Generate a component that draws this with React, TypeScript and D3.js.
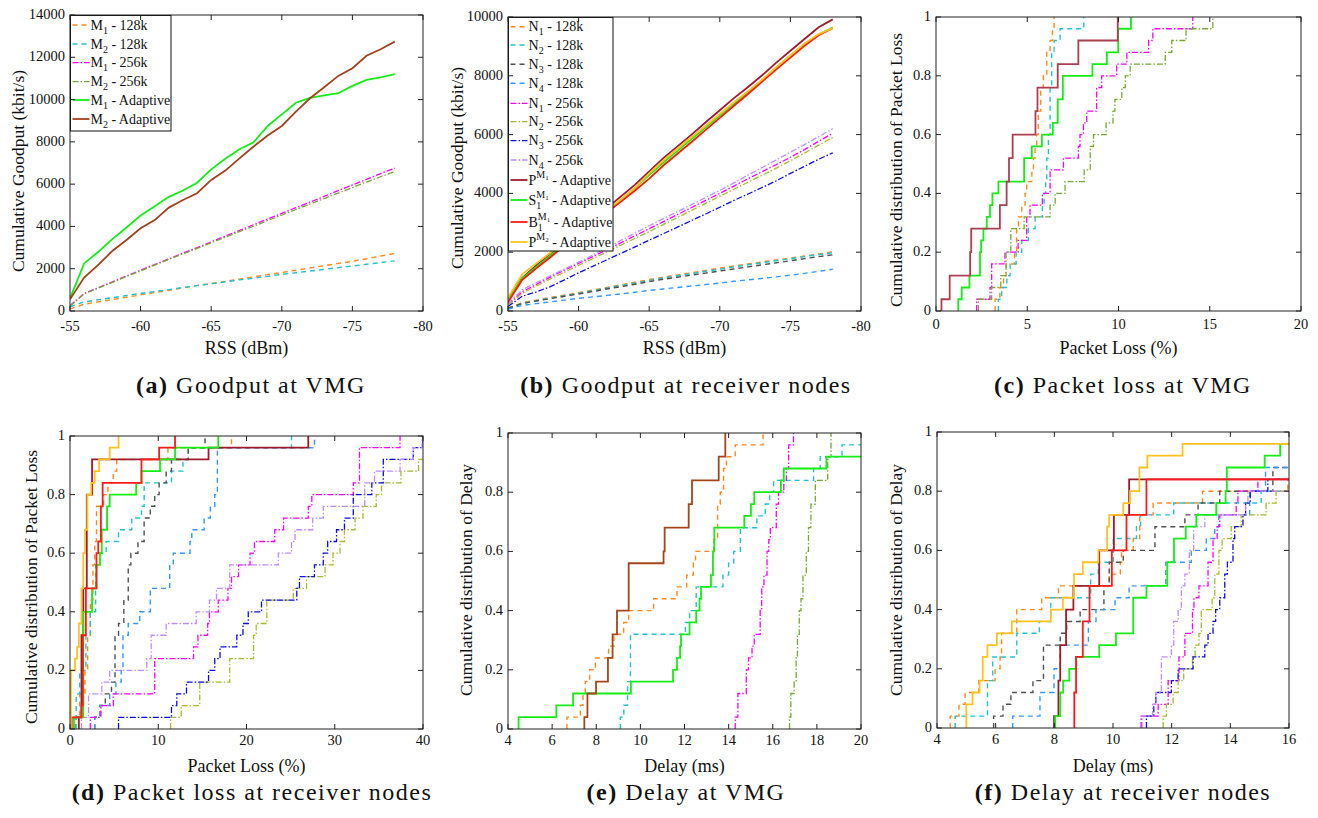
import React from 'react';
import * as d3 from 'd3';

type Pt = [number, number];
const FONT = '"Liberation Serif", "Times New Roman", serif';

// ---------- (a) / (b) goodput vs RSS ----------
const rss = [-55, -56, -57, -58, -59, -60, -61, -62, -63, -64, -65, -66, -67, -68, -69, -70, -71, -72, -73, -74, -75, -76, -77, -78];

const aM1_128 = [100, 320, 430, 540, 650, 760, 870, 980, 1090, 1200, 1300, 1400, 1510, 1610, 1720, 1820, 1930, 2040, 2140, 2250, 2350, 2470, 2600, 2720];
const aM2_128 = [200, 430, 530, 630, 730, 830, 920, 1010, 1110, 1200, 1290, 1380, 1470, 1550, 1640, 1730, 1810, 1890, 1970, 2050, 2130, 2210, 2290, 2370];
const aM1_256 = [250, 830, 1100, 1380, 1660, 1930, 2200, 2470, 2740, 3000, 3270, 3540, 3810, 4080, 4350, 4620, 4890, 5150, 5420, 5690, 5960, 6230, 6500, 6760];
const aM2_256 = [230, 810, 1080, 1350, 1630, 1900, 2170, 2440, 2700, 2960, 3230, 3490, 3750, 4010, 4280, 4540, 4800, 5060, 5320, 5580, 5840, 6100, 6350, 6600];
const aM1_Ad = [600, 2250, 2800, 3400, 3950, 4520, 4950, 5400, 5700, 6070, 6700, 7200, 7650, 7980, 8750, 9300, 9850, 10080, 10200, 10300, 10650, 10930, 11050, 11200];
const aM2_Ad = [550, 1580, 2180, 2840, 3360, 3910, 4300, 4890, 5250, 5570, 6200, 6640, 7220, 7780, 8300, 8750, 9430, 10060, 10580, 11120, 11480, 12070, 12380, 12740];

const bN1_128 = [100, 280, 370, 460, 540, 620, 710, 800, 890, 980, 1070, 1150, 1230, 1300, 1380, 1460, 1530, 1600, 1670, 1740, 1800, 1870, 1940, 2010];
const bN2_128 = [90, 260, 350, 440, 520, 600, 690, 780, 870, 950, 1040, 1120, 1200, 1270, 1350, 1420, 1500, 1570, 1640, 1710, 1780, 1850, 1920, 1980];
const bN3_128 = [90, 250, 340, 420, 500, 580, 660, 750, 830, 910, 1000, 1080, 1150, 1220, 1290, 1360, 1430, 1500, 1570, 1640, 1710, 1780, 1850, 1910];
const bN4_128 = [60, 190, 250, 310, 370, 430, 480, 530, 580, 640, 700, 750, 800, 850, 900, 950, 1010, 1060, 1110, 1160, 1220, 1280, 1350, 1420];
const bN1_256 = [220, 650, 900, 1150, 1390, 1620, 1850, 2080, 2320, 2560, 2800, 3040, 3280, 3520, 3760, 4000, 4250, 4500, 4740, 4980, 5230, 5490, 5770, 6050];
const bN2_256 = [200, 600, 850, 1090, 1320, 1550, 1780, 2010, 2240, 2470, 2700, 2940, 3180, 3420, 3660, 3900, 4140, 4380, 4620, 4860, 5110, 5370, 5640, 5900];
const bN3_256 = [150, 500, 650, 830, 1060, 1300, 1520, 1740, 1960, 2180, 2410, 2630, 2850, 3080, 3300, 3530, 3760, 3980, 4200, 4430, 4680, 4920, 5160, 5380];
const bN4_256 = [250, 720, 960, 1200, 1430, 1660, 1900, 2150, 2400, 2650, 2900, 3140, 3380, 3620, 3860, 4100, 4360, 4620, 4880, 5140, 5400, 5660, 5930, 6200];
const bPM1 = [380, 1120, 1550, 1950, 2350, 2750, 3100, 3500, 3900, 4300, 4750, 5200, 5600, 6000, 6420, 6830, 7240, 7620, 8020, 8450, 8850, 9250, 9650, 9920];
const bS1M1 = [350, 1100, 1500, 1880, 2270, 2650, 3000, 3400, 3780, 4180, 4620, 5050, 5450, 5850, 6250, 6650, 7050, 7450, 7850, 8280, 8680, 9080, 9400, 9640];
const bB1M1 = [300, 1050, 1450, 1830, 2220, 2600, 2960, 3350, 3720, 4100, 4500, 4950, 5350, 5750, 6160, 6570, 6980, 7380, 7800, 8220, 8620, 9020, 9380, 9620];
const bPM2 = [450, 1250, 1620, 1980, 2360, 2720, 3060, 3430, 3800, 4200, 4680, 5120, 5520, 5920, 6300, 6700, 7100, 7480, 7870, 8290, 8700, 9100, 9420, 9620];

// ---------- (c) packet loss at VMG: CDF steps [x, F] ----------
const cM1_128: Pt[] = [[3.24, 0.04], [3.5, 0.08], [3.7, 0.12], [3.84, 0.16], [4.3, 0.2], [4.42, 0.28], [4.52, 0.32], [4.7, 0.36], [4.88, 0.4], [4.97, 0.44], [5.25, 0.48], [5.34, 0.52], [5.43, 0.56], [5.52, 0.6], [5.6, 0.68], [5.74, 0.76], [5.88, 0.8], [6.07, 0.88], [6.25, 0.92], [6.38, 0.96], [6.47, 1]];
const cM2_128: Pt[] = [[3.42, 0.04], [3.6, 0.08], [3.88, 0.12], [4.06, 0.16], [4.39, 0.2], [4.7, 0.24], [5.06, 0.28], [5.43, 0.32], [5.83, 0.36], [5.92, 0.4], [6.01, 0.44], [6.07, 0.52], [6.16, 0.6], [6.25, 0.76], [6.34, 0.88], [6.47, 0.92], [6.8, 0.96], [8.1, 1]];
const cM1_256: Pt[] = [[2.23, 0.04], [2.96, 0.08], [3.05, 0.16], [3.78, 0.2], [4.5, 0.24], [4.97, 0.32], [5.15, 0.36], [5.83, 0.4], [6.25, 0.48], [6.98, 0.52], [7.8, 0.56], [7.89, 0.6], [8.08, 0.64], [8.26, 0.68], [8.8, 0.76], [9.08, 0.8], [9.9, 0.84], [10.46, 0.88], [11.65, 0.92], [11.88, 0.96], [14.07, 1]];
const cM2_256: Pt[] = [[2.32, 0.04], [3.05, 0.08], [3.55, 0.12], [3.84, 0.2], [4.1, 0.28], [4.83, 0.32], [6.25, 0.36], [6.53, 0.4], [7.07, 0.44], [8.12, 0.48], [8.45, 0.56], [8.63, 0.6], [9.32, 0.64], [9.7, 0.68], [9.8, 0.72], [10.18, 0.76], [10.37, 0.8], [10.64, 0.84], [12.56, 0.88], [12.92, 0.92], [13.7, 0.96], [15.17, 1]];
const cM1_Ad: Pt[] = [[1.22, 0.04], [1.41, 0.08], [1.83, 0.12], [2.41, 0.2], [2.47, 0.24], [2.6, 0.28], [2.78, 0.32], [2.96, 0.36], [3.09, 0.4], [3.42, 0.44], [4.83, 0.52], [5.25, 0.56], [5.8, 0.6], [6.4, 0.64], [6.67, 0.72], [6.95, 0.8], [8.57, 0.84], [9.36, 0.88], [9.98, 0.96], [10.68, 1]];
const cM2_Ad: Pt[] = [[0.3, 0.04], [0.75, 0.12], [1.87, 0.2], [1.93, 0.28], [3.5, 0.36], [3.87, 0.44], [4.0, 0.52], [4.2, 0.6], [5.45, 0.68], [5.56, 0.76], [6.67, 0.84], [7.8, 0.92], [9.96, 1]];

// ---------- (d) packet loss at receiver nodes ----------
const dN1_128: Pt[] = [[0.6, 0.04], [1.1, 0.12], [1.7, 0.2], [2.0, 0.32], [2.3, 0.44], [2.6, 0.56], [2.8, 0.64], [3.0, 0.76], [3.8, 0.8], [4.3, 0.84], [4.9, 0.88], [5.3, 0.92], [11.1, 0.96], [18.3, 1]];
const dN2_128: Pt[] = [[0.7, 0.12], [1.1, 0.2], [1.8, 0.32], [2.3, 0.4], [2.9, 0.56], [3.4, 0.6], [4.1, 0.64], [5.5, 0.68], [7.0, 0.72], [8.1, 0.76], [8.4, 0.84], [11.5, 0.88], [12.8, 0.92], [13.4, 0.96], [25.1, 1]];
const dN3_128: Pt[] = [[2.8, 0.04], [3.4, 0.08], [4.0, 0.12], [4.7, 0.16], [5.1, 0.32], [5.5, 0.36], [6.1, 0.44], [6.6, 0.56], [6.9, 0.6], [7.7, 0.64], [8.4, 0.72], [9.1, 0.76], [9.6, 0.8], [10.1, 0.84], [10.9, 0.88], [11.5, 0.92], [13.4, 0.96], [15.3, 1]];
const dN4_128: Pt[] = [[2.8, 0.04], [3.4, 0.08], [4.5, 0.12], [5.2, 0.16], [5.8, 0.2], [6.0, 0.32], [6.6, 0.36], [7.9, 0.4], [9.1, 0.48], [11.3, 0.56], [11.7, 0.6], [13.6, 0.64], [13.8, 0.68], [15.2, 0.72], [15.9, 0.76], [16.4, 0.8], [16.7, 0.96], [27.7, 1]];
const dN1_256: Pt[] = [[2.3, 0.04], [3.5, 0.08], [4.9, 0.12], [9.6, 0.24], [14.0, 0.28], [14.5, 0.32], [15.6, 0.36], [15.8, 0.4], [16.8, 0.44], [17.9, 0.48], [18.3, 0.52], [19.1, 0.56], [20.4, 0.6], [20.9, 0.64], [23.2, 0.68], [24.2, 0.72], [27.0, 0.76], [27.4, 0.8], [32.1, 0.84], [32.8, 0.96], [37.4, 1]];
const dN2_256: Pt[] = [[11.4, 0.04], [12.6, 0.08], [14.7, 0.16], [18.1, 0.24], [20.8, 0.32], [21.1, 0.36], [22.3, 0.44], [25.3, 0.48], [26.8, 0.52], [28.9, 0.56], [29.8, 0.6], [30.6, 0.64], [31.1, 0.68], [32.3, 0.72], [33.2, 0.76], [34.7, 0.8], [35.3, 0.84], [37.5, 0.88], [39.5, 0.92], [40, 0.92]];
const dN3_256: Pt[] = [[5.5, 0.04], [11.5, 0.08], [12.1, 0.12], [13.2, 0.16], [15.7, 0.2], [16.4, 0.24], [17.0, 0.28], [18.9, 0.32], [19.6, 0.36], [20.2, 0.4], [21.7, 0.44], [25.7, 0.48], [26.0, 0.52], [27.7, 0.56], [28.7, 0.6], [29.2, 0.64], [30.2, 0.68], [31.1, 0.72], [32.1, 0.8], [34.2, 0.84], [35.5, 0.92], [38.9, 0.96], [40, 1]];
const dN4_256: Pt[] = [[1.3, 0.04], [2.1, 0.12], [3.6, 0.16], [4.5, 0.2], [8.7, 0.24], [9.2, 0.32], [10.9, 0.36], [14.3, 0.4], [15.8, 0.44], [16.6, 0.48], [18.1, 0.56], [23.6, 0.6], [25.1, 0.64], [25.5, 0.68], [27.5, 0.72], [28.7, 0.76], [33.4, 0.84], [34.5, 0.88], [37.4, 0.92], [38.9, 0.96], [39.9, 1]];
const dPM1: Pt[] = [[1.0, 0.04], [1.3, 0.32], [1.5, 0.48], [1.9, 0.8], [2.5, 0.92], [15.7, 0.96], [27.0, 1]];
const dS1M1: Pt[] = [[0.45, 0.04], [1.5, 0.4], [2.5, 0.48], [3.0, 0.56], [3.4, 0.6], [3.6, 0.68], [4.2, 0.76], [4.5, 0.8], [7.5, 0.84], [8.1, 0.88], [10.2, 0.92], [11.9, 0.96], [16.8, 1]];
const dB1M1: Pt[] = [[0.2, 0.04], [1.3, 0.08], [1.45, 0.32], [1.8, 0.48], [3.0, 0.6], [3.2, 0.64], [3.5, 0.76], [3.7, 0.84], [8.1, 0.92], [10.1, 0.96], [11.9, 1]];
const dPM2: Pt[] = [[0.1, 0.2], [0.57, 0.24], [0.8, 0.28], [1.0, 0.36], [1.3, 0.48], [1.5, 0.6], [1.7, 0.68], [1.96, 0.8], [2.4, 0.84], [2.8, 0.88], [3.3, 0.92], [4.5, 0.96], [5.5, 1]];

// ---------- (e) delay at VMG ----------
const eM1_128: Pt[] = [[6.67, 0.04], [7.28, 0.08], [7.4, 0.12], [7.5, 0.16], [7.7, 0.2], [7.96, 0.24], [8.56, 0.28], [8.8, 0.32], [9.24, 0.36], [9.47, 0.4], [10.6, 0.44], [11.66, 0.48], [12.1, 0.52], [12.4, 0.56], [12.5, 0.6], [13.32, 0.64], [13.5, 0.76], [13.62, 0.8], [13.77, 0.88], [13.9, 0.92], [14.3, 0.96], [15.56, 1]];
const eM2_128: Pt[] = [[9.09, 0.04], [9.25, 0.08], [9.42, 0.16], [9.55, 0.32], [12.04, 0.36], [12.23, 0.4], [12.53, 0.48], [13.74, 0.52], [14.0, 0.56], [14.23, 0.6], [14.53, 0.68], [15.28, 0.72], [15.66, 0.76], [15.86, 0.8], [16.04, 0.84], [17.85, 0.88], [18.15, 0.92], [19.14, 0.96], [20, 0.96]];
const eM1_256: Pt[] = [[14.3, 0.04], [14.42, 0.12], [14.8, 0.2], [14.9, 0.24], [15.06, 0.28], [15.16, 0.32], [15.43, 0.4], [15.5, 0.48], [15.6, 0.52], [15.74, 0.6], [15.82, 0.64], [15.89, 0.68], [16.16, 0.76], [16.26, 0.8], [16.5, 0.84], [16.62, 0.88], [16.72, 0.96], [16.94, 1]];
const eM2_256: Pt[] = [[16.76, 0.04], [16.82, 0.12], [16.97, 0.16], [17.06, 0.24], [17.12, 0.32], [17.2, 0.4], [17.28, 0.44], [17.37, 0.52], [17.52, 0.6], [17.62, 0.68], [17.73, 0.76], [17.93, 0.84], [18.49, 0.92], [18.64, 1]];
const eM1_Ad: Pt[] = [[4.48, 0.04], [6.19, 0.08], [6.95, 0.12], [9.57, 0.16], [11.48, 0.2], [11.66, 0.24], [11.8, 0.28], [11.84, 0.32], [12.23, 0.36], [12.53, 0.4], [12.68, 0.44], [12.75, 0.48], [13.2, 0.52], [13.29, 0.6], [13.35, 0.68], [14.71, 0.72], [15.01, 0.76], [15.16, 0.8], [16.37, 0.84], [16.5, 0.88], [18.43, 0.92], [20, 0.92]];
const eM2_Ad: Pt[] = [[7.46, 0.04], [7.6, 0.12], [7.99, 0.16], [8.53, 0.24], [8.74, 0.32], [8.94, 0.4], [9.47, 0.56], [11.05, 0.6], [11.1, 0.68], [12.19, 0.76], [12.34, 0.84], [13.55, 0.92], [13.85, 1]];

// ---------- (f) delay at receiver nodes ----------
const fN1_128: Pt[] = [[4.45, 0.04], [4.75, 0.08], [4.96, 0.12], [5.42, 0.16], [5.98, 0.2], [6.15, 0.24], [6.2, 0.32], [6.72, 0.4], [7.57, 0.44], [8.14, 0.48], [9.87, 0.52], [10.25, 0.56], [10.29, 0.6], [10.69, 0.64], [10.91, 0.72], [11.37, 0.76], [13.05, 0.8], [15.96, 0.84], [16, 0.84]];
const fN2_128: Pt[] = [[4.62, 0.04], [5.72, 0.16], [5.9, 0.24], [6.72, 0.32], [7.49, 0.36], [7.88, 0.44], [9.24, 0.52], [9.5, 0.56], [10.01, 0.64], [10.8, 0.68], [10.94, 0.72], [12.07, 0.76], [15.05, 0.8], [16, 0.8]];
const fN3_128: Pt[] = [[5.93, 0.04], [6.25, 0.08], [6.52, 0.12], [7.27, 0.16], [7.63, 0.28], [8.2, 0.32], [8.42, 0.36], [8.88, 0.4], [9.69, 0.48], [9.87, 0.56], [10.35, 0.6], [11.43, 0.68], [12.45, 0.72], [12.9, 0.76], [13.64, 0.8], [15.45, 0.88], [16, 0.88]];
const fN4_128: Pt[] = [[6.58, 0.04], [7.51, 0.12], [7.99, 0.2], [8.2, 0.28], [9.16, 0.36], [9.42, 0.4], [10.07, 0.44], [10.55, 0.48], [11.8, 0.56], [12.67, 0.6], [13.18, 0.64], [13.47, 0.68], [13.6, 0.72], [14.66, 0.8], [15.2, 0.88], [16, 0.88]];
const fN1_256: Pt[] = [[10.98, 0.04], [11.54, 0.08], [11.88, 0.16], [12.25, 0.24], [12.45, 0.32], [12.71, 0.4], [12.76, 0.44], [12.93, 0.48], [13.24, 0.56], [13.41, 0.64], [13.55, 0.68], [13.64, 0.72], [14.2, 0.76], [14.26, 0.8], [14.94, 0.84], [16, 0.84]];
const fN2_256: Pt[] = [[11.71, 0.04], [11.82, 0.08], [12.05, 0.12], [12.22, 0.16], [12.41, 0.2], [12.71, 0.24], [12.8, 0.28], [12.93, 0.32], [13.01, 0.4], [13.38, 0.44], [13.47, 0.52], [13.61, 0.6], [13.72, 0.64], [14.03, 0.68], [14.37, 0.72], [15.22, 0.76], [15.56, 0.8], [16, 0.8]];
const fN3_256: Pt[] = [[11.14, 0.04], [11.39, 0.08], [11.46, 0.12], [11.99, 0.16], [12.22, 0.2], [12.73, 0.24], [13.13, 0.28], [13.24, 0.32], [13.41, 0.36], [13.5, 0.4], [13.64, 0.44], [13.81, 0.52], [13.9, 0.56], [14.09, 0.64], [14.15, 0.68], [14.43, 0.72], [14.52, 0.76], [14.68, 0.8], [15.28, 0.84], [16, 0.84]];
const fN4_256: Pt[] = [[10.94, 0.04], [11.35, 0.08], [11.46, 0.12], [11.65, 0.24], [11.99, 0.28], [12.07, 0.36], [12.22, 0.4], [12.33, 0.48], [12.45, 0.52], [12.6, 0.6], [12.75, 0.68], [13.13, 0.72], [14.52, 0.76], [14.6, 0.8], [16, 0.8]];
const fPM1: Pt[] = [[7.99, 0.04], [8.14, 0.16], [8.2, 0.28], [8.4, 0.4], [8.65, 0.48], [9.53, 0.6], [10.03, 0.72], [10.55, 0.84], [16, 0.84]];
const fS1M1: Pt[] = [[8.03, 0.04], [8.2, 0.12], [8.3, 0.16], [8.51, 0.2], [8.74, 0.24], [9.53, 0.28], [10.1, 0.32], [10.69, 0.44], [11.14, 0.48], [11.85, 0.56], [12.08, 0.64], [12.48, 0.68], [12.84, 0.72], [13.52, 0.76], [13.84, 0.8], [13.88, 0.88], [15.17, 0.92], [15.7, 0.96], [16, 0.96]];
const fB1M1: Pt[] = [[8.68, 0.12], [8.74, 0.24], [8.97, 0.36], [9.2, 0.48], [9.96, 0.6], [10.46, 0.72], [11.14, 0.84], [16, 0.84]];
const fPM2: Pt[] = [[5.0, 0.08], [5.21, 0.12], [5.45, 0.16], [5.56, 0.24], [5.72, 0.28], [6.04, 0.32], [6.55, 0.36], [7.88, 0.4], [8.29, 0.44], [8.67, 0.52], [8.97, 0.56], [9.5, 0.6], [9.8, 0.68], [9.87, 0.72], [10.35, 0.76], [10.58, 0.8], [10.9, 0.88], [11.17, 0.92], [12.37, 0.96], [16, 0.96]];

// ---------- ticks ----------
const rssTicks = [-55, -60, -65, -70, -75, -80];
const goodputTicksA = [0, 2000, 4000, 6000, 8000, 10000, 12000, 14000];
const goodputTicksB = [0, 2000, 4000, 6000, 8000, 10000];
const cdfTicks = [0, 0.2, 0.4, 0.6, 0.8, 1];
const lossTicksC = [0, 5, 10, 15, 20];
const lossTicksD = [0, 10, 20, 30, 40];
const delayTicksE = [4, 6, 8, 10, 12, 14, 16, 18, 20];
const delayTicksF = [4, 6, 8, 10, 12, 14, 16];

// ---------- styles ----------
const COL = {
  orange: '#ff8a1c', cyan: '#20c2d2', gray: '#505050', dblue: '#3399ff', magenta: '#ff00ff',
  olive: '#78a832', olive2: '#a9bb2a', blue: '#0c0ce6', lav: '#c08cff', green: '#14ee14',
  maroon: '#a01a2c', red: '#ff1a1a', yellow: '#ffc220', brownA: '#a2421c', brownC: '#ab3f52', brownE: '#a5461a',
};
const DASH = '5,4';
const DASHDOT = '6,2,1.5,2';

type Series = { data: Pt[]; color: string; dash?: string; width: number; step?: boolean };
type Label = { base: string; sub?: string; sup?: string; supsub?: string; rest: string };

const pair = (xs: number[], ys: number[]): Pt[] => xs.map((x, i) => [x, ys[i]] as Pt);

const dashed = (data: Pt[], color: string, step = false): Series => ({ data, color, dash: DASH, width: 1.4, step });
const dashdot = (data: Pt[], color: string, step = false): Series => ({ data, color, dash: DASHDOT, width: 1.3, step });
const solid = (data: Pt[], color: string, step = false): Series => ({ data, color, width: 1.8, step });

const labelsA: Label[] = [
  { base: 'M', sub: '1', rest: ' - 128k' },
  { base: 'M', sub: '2', rest: ' - 128k' },
  { base: 'M', sub: '1', rest: ' - 256k' },
  { base: 'M', sub: '2', rest: ' - 256k' },
  { base: 'M', sub: '1', rest: ' - Adaptive' },
  { base: 'M', sub: '2', rest: ' - Adaptive' },
];
const labelsB: Label[] = [
  { base: 'N', sub: '1', rest: ' - 128k' },
  { base: 'N', sub: '2', rest: ' - 128k' },
  { base: 'N', sub: '3', rest: ' - 128k' },
  { base: 'N', sub: '4', rest: ' - 128k' },
  { base: 'N', sub: '1', rest: ' - 256k' },
  { base: 'N', sub: '2', rest: ' - 256k' },
  { base: 'N', sub: '3', rest: ' - 256k' },
  { base: 'N', sub: '4', rest: ' - 256k' },
  { base: 'P', sup: 'M', supsub: '1', rest: ' - Adaptive' },
  { base: 'S', sub: '1', sup: 'M', supsub: '1', rest: ' - Adaptive' },
  { base: 'B', sub: '1', sup: 'M', supsub: '1', rest: ' - Adaptive' },
  { base: 'P', sup: 'M', supsub: '2', rest: ' - Adaptive' },
];

type Box = { l: number; r: number; t: number; b: number };
type PanelSpec = {
  id: string; box: Box; xDomain: [number, number]; yDomain: [number, number];
  xTicks: number[]; yTicks: number[]; xLabel: string; yLabel: string; yLabelX: number; yLabelY: number;
  tickDy: number; xLabelY: number; letter: string; caption: string; captionX: number; captionY: number;
  series: Series[];
  legend?: { box: Box; rows: number[]; labels: Label[] };
};

function LegendLabel({ x, y, lab }: { x: number; y: number; lab: Label }) {
  let acc = 0;
  const parts: React.ReactNode[] = [];
  parts.push(<tspan key="b">{lab.base}</tspan>);
  if (lab.sub) { parts.push(<tspan key="s" dy={4} fontSize={10}>{lab.sub}</tspan>); acc += 4; }
  if (lab.sup) {
    const dy = lab.sub ? -11 : -7;
    parts.push(<tspan key="p" dx={lab.sub ? -5 : 0} dy={dy} fontSize={10}>{lab.sup}</tspan>); acc += dy;
  }
  if (lab.supsub) { parts.push(<tspan key="ps" dy={2} fontSize={7}>{lab.supsub}</tspan>); acc += 2; }
  parts.push(<tspan key="r" dy={-acc}>{lab.rest}</tspan>);
  return <text x={x} y={y} fontSize={14} fontFamily={FONT} fill="#111">{parts}</text>;
}

function Panel({ p }: { p: PanelSpec }) {
  const { l, r, t, b } = p.box;
  const x = d3.scaleLinear().domain(p.xDomain).range([l, r]);
  const y = d3.scaleLinear().domain(p.yDomain).range([b, t]);
  const line = d3.line<Pt>().x(d => x(d[0])).y(d => y(d[1]));
  const step = d3.line<Pt>().x(d => x(d[0])).y(d => y(d[1])).curve(d3.curveStepAfter);
  const clipId = `clip-${p.id}`;
  const TL = 5;
  return (
    <g>
      <defs>
        <clipPath id={clipId}><rect x={l} y={t} width={r - l} height={b - t} /></clipPath>
      </defs>
      <g clipPath={`url(#${clipId})`}>
        {p.series.map((s, i) => (
          <path key={i}
            d={(s.step ? step([[s.data[0][0], 0] as Pt, ...s.data]) : line(s.data)) || ''}
            fill="none" stroke={s.color} strokeWidth={s.width} strokeDasharray={s.dash}
            strokeLinejoin="miter" />
        ))}
      </g>
      {p.legend && (
        <g>
          <rect x={p.legend.box.l} y={p.legend.box.t} width={p.legend.box.r - p.legend.box.l}
            height={p.legend.box.b - p.legend.box.t} fill="#fff" stroke="#111" strokeWidth={1} />
          {p.legend.labels.map((lab, i) => {
            const s = p.series[i];
            const yc = p.legend!.rows[i];
            return (
              <g key={i}>
                <line x1={p.legend!.box.l + 2} x2={p.legend!.box.l + 19} y1={yc} y2={yc}
                  stroke={s.color} strokeWidth={s.width} strokeDasharray={s.dash} />
                <LegendLabel x={p.legend!.box.l + 20} y={yc + 4.5} lab={lab} />
              </g>
            );
          })}
        </g>
      )}
      <rect x={l} y={t} width={r - l} height={b - t} fill="none" stroke="#222" strokeWidth={1} />
      {p.xTicks.map(v => (
        <g key={'x' + v}>
          <line x1={x(v)} x2={x(v)} y1={b} y2={b - TL} stroke="#222" />
          <line x1={x(v)} x2={x(v)} y1={t} y2={t + TL} stroke="#222" />
          <text x={x(v)} y={b + p.tickDy} fontSize={14.5} fontFamily={FONT} textAnchor="middle" fill="#111">{String(v)}</text>
        </g>
      ))}
      {p.yTicks.map(v => (
        <g key={'y' + v}>
          <line x1={l} x2={l + TL} y1={y(v)} y2={y(v)} stroke="#222" />
          <line x1={r} x2={r - TL} y1={y(v)} y2={y(v)} stroke="#222" />
          <text x={l - 5} y={y(v) + 4} fontSize={14.5} fontFamily={FONT} textAnchor="end" fill="#111">{String(v)}</text>
        </g>
      ))}
      <text x={(l + r) / 2} y={p.xLabelY} fontSize={18} fontFamily={FONT} textAnchor="middle" fill="#111">{p.xLabel}</text>
      <text transform={`translate(${p.yLabelX},${p.yLabelY}) rotate(-90)`} fontSize={17.5} fontFamily={FONT}
        textAnchor="middle" fill="#111">{p.yLabel}</text>
      <text x={p.captionX} y={p.captionY} fontSize={24} fontFamily={FONT} textAnchor="middle" letterSpacing={1.5} fill="#111">
        <tspan fontWeight="bold">{p.letter}</tspan> {p.caption}
      </text>
    </g>
  );
}

const seriesA: Series[] = [
  dashed(pair(rss, aM1_128), COL.orange), dashed(pair(rss, aM2_128), COL.cyan),
  dashdot(pair(rss, aM1_256), COL.magenta), dashdot(pair(rss, aM2_256), COL.olive),
  solid(pair(rss, aM1_Ad), COL.green), solid(pair(rss, aM2_Ad), COL.brownA),
];
const seriesB: Series[] = [
  dashed(pair(rss, bN1_128), COL.orange), dashed(pair(rss, bN2_128), COL.cyan),
  dashed(pair(rss, bN3_128), COL.gray), dashed(pair(rss, bN4_128), COL.dblue),
  dashdot(pair(rss, bN1_256), COL.magenta), dashdot(pair(rss, bN2_256), COL.olive2),
  dashdot(pair(rss, bN3_256), COL.blue), dashdot(pair(rss, bN4_256), COL.lav),
  solid(pair(rss, bPM1), COL.maroon), solid(pair(rss, bS1M1), COL.green),
  solid(pair(rss, bB1M1), COL.red), solid(pair(rss, bPM2), COL.yellow),
];
const seriesC: Series[] = [
  dashed(cM1_128, COL.orange, true), dashed(cM2_128, COL.cyan, true),
  dashdot(cM1_256, COL.magenta, true), dashdot(cM2_256, COL.olive, true),
  solid(cM1_Ad, COL.green, true), solid(cM2_Ad, COL.brownC, true),
];
const seriesD: Series[] = [
  dashed(dN1_128, COL.orange, true), dashed(dN2_128, COL.cyan, true),
  dashed(dN3_128, COL.gray, true), dashed(dN4_128, COL.dblue, true),
  dashdot(dN1_256, COL.magenta, true), dashdot(dN2_256, COL.olive2, true),
  dashdot(dN3_256, COL.blue, true), dashdot(dN4_256, COL.lav, true),
  solid(dPM1, COL.maroon, true), solid(dS1M1, COL.green, true),
  solid(dB1M1, COL.red, true), solid(dPM2, COL.yellow, true),
];
const seriesE: Series[] = [
  dashed(eM1_128, COL.orange, true), dashed(eM2_128, COL.cyan, true),
  dashdot(eM1_256, COL.magenta, true), dashdot(eM2_256, COL.olive, true),
  solid(eM1_Ad, COL.green, true), solid(eM2_Ad, COL.brownE, true),
];
const seriesF: Series[] = [
  dashed(fN1_128, COL.orange, true), dashed(fN2_128, COL.cyan, true),
  dashed(fN3_128, COL.gray, true), dashed(fN4_128, COL.dblue, true),
  dashdot(fN1_256, COL.magenta, true), dashdot(fN2_256, COL.olive2, true),
  dashdot(fN3_256, COL.blue, true), dashdot(fN4_256, COL.lav, true),
  solid(fPM1, COL.maroon, true), solid(fS1M1, COL.green, true),
  solid(fB1M1, COL.red, true), solid(fPM2, COL.yellow, true),
];

const panels: PanelSpec[] = [
  {
    id: 'a', box: { l: 70, r: 423, t: 15, b: 311 }, xDomain: [-55, -80], yDomain: [0, 14000],
    xTicks: rssTicks, yTicks: goodputTicksA, xLabel: 'RSS (dBm)', yLabel: 'Cumulative Goodput (kbit/s)',
    yLabelX: 24, yLabelY: 171, tickDy: 20, xLabelY: 354, letter: '(a)', caption: 'Goodput at VMG', captionX: 251, captionY: 393,
    series: seriesA,
    legend: { box: { l: 70.5, r: 171, t: 15.5, b: 131 }, rows: [25, 44, 62.7, 81.7, 100, 119], labels: labelsA },
  },
  {
    id: 'b', box: { l: 508, r: 861, t: 17, b: 311 }, xDomain: [-55, -80], yDomain: [0, 10000],
    xTicks: rssTicks, yTicks: goodputTicksB, xLabel: 'RSS (dBm)', yLabel: 'Cumulative Goodput (kbit/s)',
    yLabelX: 463, yLabelY: 168, tickDy: 20, xLabelY: 354, letter: '(b)', caption: 'Goodput at receiver nodes', captionX: 686, captionY: 393,
    series: seriesB,
    legend: { box: { l: 508.5, r: 613, t: 17.5, b: 251 }, rows: [26.7, 45, 64.3, 83.3, 103.3, 121.7, 140.7, 160, 180, 200, 222, 242], labels: labelsB },
  },
  {
    id: 'c', box: { l: 936, r: 1301, t: 17, b: 311 }, xDomain: [0, 20], yDomain: [0, 1],
    xTicks: lossTicksC, yTicks: cdfTicks, xLabel: 'Packet Loss (%)', yLabel: 'Cumulative distribution of Packet Loss',
    yLabelX: 902, yLabelY: 170, tickDy: 18, xLabelY: 354, letter: '(c)', caption: 'Packet loss at VMG', captionX: 1123, captionY: 393,
    series: seriesC,
  },
  {
    id: 'd', box: { l: 70, r: 423, t: 436, b: 729 }, xDomain: [0, 40], yDomain: [0, 1],
    xTicks: lossTicksD, yTicks: cdfTicks, xLabel: 'Packet Loss (%)', yLabel: 'Cumulative distribution of Packet Loss',
    yLabelX: 37, yLabelY: 587, tickDy: 16, xLabelY: 772, letter: '(d)', caption: 'Packet loss at receiver nodes', captionX: 252, captionY: 800,
    series: seriesD,
  },
  {
    id: 'e', box: { l: 508, r: 861, t: 433, b: 729 }, xDomain: [4, 20], yDomain: [0, 1],
    xTicks: delayTicksE, yTicks: cdfTicks, xLabel: 'Delay (ms)', yLabel: 'Cumulative distribution of Delay',
    yLabelX: 472, yLabelY: 580, tickDy: 16, xLabelY: 772, letter: '(e)', caption: 'Delay at VMG', captionX: 686, captionY: 800,
    series: seriesE,
  },
  {
    id: 'f', box: { l: 937, r: 1289, t: 432, b: 728 }, xDomain: [4, 16], yDomain: [0, 1],
    xTicks: delayTicksF, yTicks: cdfTicks, xLabel: 'Delay (ms)', yLabel: 'Cumulative distribution of Delay',
    yLabelX: 902, yLabelY: 580, tickDy: 16, xLabelY: 772, letter: '(f)', caption: 'Delay at receiver nodes', captionX: 1123, captionY: 800,
    series: seriesF,
  },
];

export default function App() {
  return (
    <svg width={1318} height={818} viewBox="0 0 1318 818"
      style={{ position: 'absolute', left: 0, top: 0, display: 'block', background: '#fff' }}>
      <rect x={0} y={0} width={1318} height={818} fill="#fff" />
      {panels.map(p => <Panel key={p.id} p={p} />)}
    </svg>
  );
}
